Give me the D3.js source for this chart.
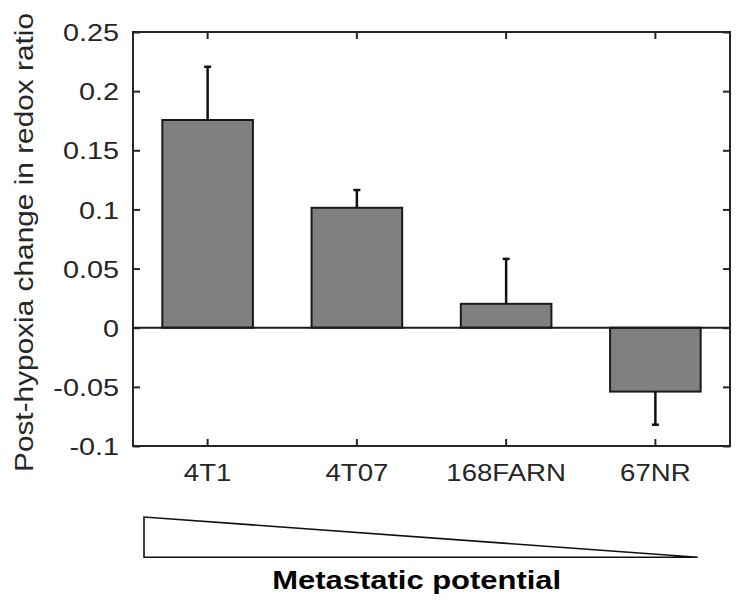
<!DOCTYPE html>
<html>
<head>
<meta charset="utf-8">
<script src="https://cdn.jsdelivr.net/npm/d3@7"></script>
<style>
  html, body { margin: 0; padding: 0; background: #fff; }
  svg { display: block; }
  text { font-family: "Liberation Sans", Arial, sans-serif; }
</style>
</head>
<body>
<svg id="chart" width="748" height="615"></svg>
<script>
// ---- data ----
const categories = ["4T1", "4T07", "168FARN", "67NR"];
const values = [0.1756, 0.1014, 0.0202, -0.054];
const errors = [0.045, 0.015, 0.038, 0.028];
const yTickValues = [-0.1, -0.05, 0, 0.05, 0.1, 0.15, 0.2, 0.25];
const yTickLabels = ["-0.1", "-0.05", "0", "0.05", "0.1", "0.15", "0.2", "0.25"];
const yLabel = "Post-hypoxia change in redox ratio";
const footLabel = "Metastatic potential";

// ---- layout ----
const L = 133, R = 730, T = 32, B = 446;
const stretch = 1.2;
const axisColor = "#262626";

const svg = d3.select("#chart");

const x = d3.scaleBand().domain(categories).range([L, R]).paddingInner(0).paddingOuter(0);
const y = d3.scaleLinear().domain([-0.1, 0.25]).range([B, T]);
const barW = x.bandwidth() * 0.607;
const cx = c => x(c) + x.bandwidth() / 2;

function stretchText(sel, f) {
  sel.each(function () {
    const len = this.getComputedTextLength();
    d3.select(this).attr("textLength", len * f).attr("lengthAdjust", "spacingAndGlyphs");
  });
}

// bars
svg.append("g").selectAll("rect")
  .data(categories)
  .join("rect")
  .attr("x", c => cx(c) - barW / 2)
  .attr("width", barW)
  .attr("y", (c, i) => y(Math.max(0, values[i])))
  .attr("height", (c, i) => Math.abs(y(values[i]) - y(0)))
  .attr("fill", "#808080")
  .attr("stroke", "#1a1a1a")
  .attr("stroke-width", 2);

// error bars (one-sided, away from zero)
const eg = svg.append("g").attr("stroke", "#111").attr("stroke-width", 2.5);
categories.forEach((c, i) => {
  const v = values[i];
  const e = v >= 0 ? v + errors[i] : v - errors[i];
  eg.append("line").attr("x1", cx(c)).attr("x2", cx(c)).attr("y1", y(v)).attr("y2", y(e));
  eg.append("line").attr("x1", cx(c) - 3.5).attr("x2", cx(c) + 3.5).attr("y1", y(e)).attr("y2", y(e));
});

// zero baseline
svg.append("line")
  .attr("x1", L).attr("x2", R).attr("y1", y(0)).attr("y2", y(0))
  .attr("stroke", "#1a1a1a").attr("stroke-width", 2);

// axes
const yAxis = d3.axisLeft(y).tickValues(yTickValues)
  .tickFormat((d, i) => yTickLabels[i]).tickSize(-7).tickSizeOuter(0);
const gy = svg.append("g").attr("transform", `translate(${L},0)`).call(yAxis);
gy.select(".domain").remove();
gy.selectAll(".tick line").attr("stroke", axisColor).attr("stroke-width", 2);
gy.selectAll(".tick text")
  .attr("x", -14).attr("dy", "0.36em")
  .attr("fill", axisColor).attr("font-size", 24)
  .call(stretchText, stretch);

const yAxisR = d3.axisRight(y).tickValues(yTickValues).tickFormat("").tickSize(-7).tickSizeOuter(0);
const gyr = svg.append("g").attr("transform", `translate(${R},0)`).call(yAxisR);
gyr.select(".domain").remove();
gyr.selectAll(".tick line").attr("stroke", axisColor).attr("stroke-width", 2);

const xAxis = d3.axisBottom(x).tickSize(-7).tickSizeOuter(0);
const gx = svg.append("g").attr("transform", `translate(0,${B})`).call(xAxis);
gx.select(".domain").remove();
gx.selectAll(".tick line").attr("stroke", axisColor).attr("stroke-width", 2);
gx.selectAll(".tick text")
  .attr("y", 35).attr("dy", "0")
  .attr("fill", axisColor).attr("font-size", 23)
  .call(stretchText, stretch);

const xAxisT = d3.axisTop(x).tickFormat("").tickSize(-7).tickSizeOuter(0);
const gxt = svg.append("g").attr("transform", `translate(0,${T})`).call(xAxisT);
gxt.select(".domain").remove();
gxt.selectAll(".tick line").attr("stroke", axisColor).attr("stroke-width", 2);

// box
svg.append("rect")
  .attr("x", L).attr("y", T).attr("width", R - L).attr("height", B - T)
  .attr("fill", "none").attr("stroke", axisColor).attr("stroke-width", 2);

// y label
svg.append("text")
  .attr("transform", `translate(33,${(13 + 472) / 2}) rotate(-90)`)
  .attr("text-anchor", "middle")
  .attr("font-size", 26)
  .attr("fill", axisColor)
  .attr("textLength", 459).attr("lengthAdjust", "spacingAndGlyphs")
  .text(yLabel);

// metastatic potential wedge
svg.append("polygon")
  .attr("points", [[144, 517], [144, 557.3], [697.7, 557.3]].map(p => p.join(",")).join(" "))
  .attr("fill", "#fff").attr("stroke", "#111").attr("stroke-width", 1.6);

svg.append("text")
  .attr("x", 416.7).attr("y", 589)
  .attr("text-anchor", "middle")
  .attr("font-size", 26).attr("font-weight", "bold")
  .attr("fill", "#000")
  .text(footLabel)
  .call(stretchText, 1.19);
</script>
</body>
</html>
